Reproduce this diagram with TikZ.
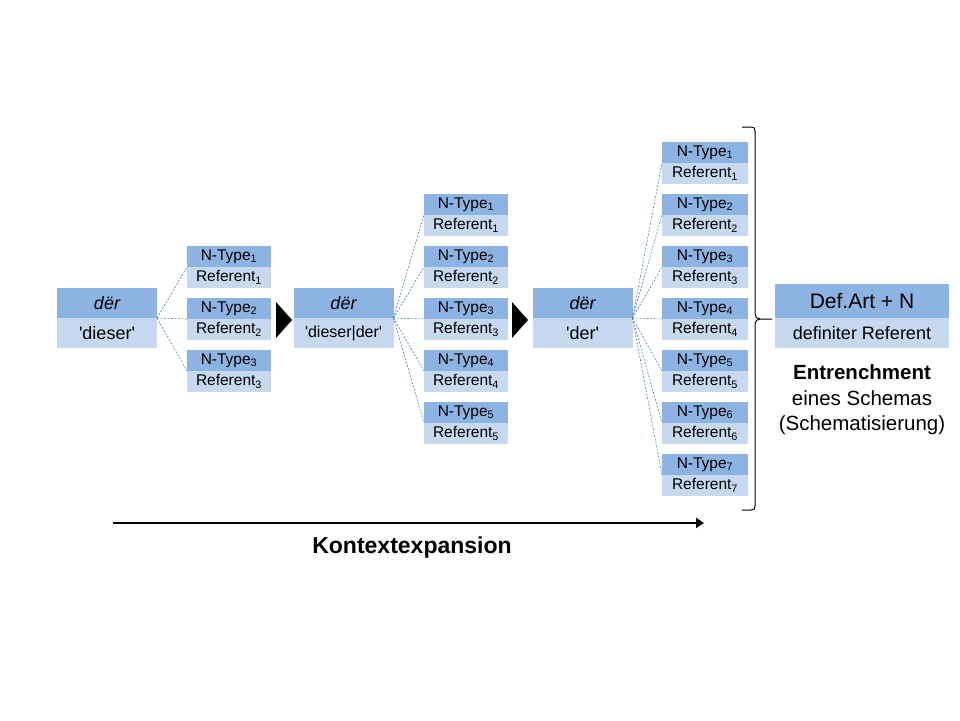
\documentclass[tikz,border=0pt]{standalone}
\usepackage{fontspec}
\setmainfont{Liberation Sans}
\usetikzlibrary{arrows.meta}
\definecolor{topblue}{HTML}{8DB3E2}
\definecolor{botblue}{HTML}{C6D9F1}
\definecolor{dashblue}{HTML}{4F81BD}
\newcommand\sq{\textquotesingle}
\tikzset{
  cell/.style={inner sep=0pt, outer sep=0pt, draw=none, anchor=center},
  nt/.style={cell, fill=topblue, minimum height=21pt, font=\fontsize{15.5}{18}\selectfont},
  nr/.style={cell, fill=botblue, minimum height=21pt, font=\fontsize{15.5}{18}\selectfont},
  bt/.style={cell, fill=topblue, minimum width=100pt, minimum height=30pt, font=\fontsize{18}{21}\selectfont\itshape},
  bb/.style={cell, fill=botblue, minimum width=100pt, minimum height=30pt, font=\fontsize{18}{21}\selectfont},
  conn/.style={draw=dashblue, line width=0.6pt, dash pattern=on 2pt off 1.5pt},
  marker/.style={fill=black, draw=none},
  bracestyle/.style={draw=black, line width=1pt},
  timeline/.style={draw=black, line width=2pt, -{Triangle[length=8pt,width=10pt]}},
  lbl/.style={inner sep=0pt, align=center}
}
\begin{document}
\begin{tikzpicture}[x=1pt,y=-1pt]
\useasboundingbox (0,0) rectangle (960,720);
% big boxes
\node[bt] (B1t) at (107,303) {dër};
\node[bb] (B1b) at (107,333) {\sq dieser\sq};
\node[bt] (B2t) at (343.5,303) {dër};
\node[bb, font=\fontsize{16}{19}\selectfont] (B2b) at (343.5,333) {\sq dieser|der\sq};
\node[bt] (B3t) at (582.5,303) {dër};
\node[bb] (B3b) at (582.5,333) {\sq der\sq};
\node[cell, fill=topblue, minimum width=174pt, minimum height=34pt, font=\fontsize{21}{24}\selectfont] (B4t) at (862,301) {Def.Art + N};
\node[cell, fill=botblue, minimum width=174pt, minimum height=30pt, font=\fontsize{18}{21}\selectfont] (B4b) at (862,333) {definiter Referent};
% column 1
\foreach \k in {1,2,3}{
  \node[nt, minimum width=84pt] (t-a-\k) at (229,{246+52*(\k-1)+10.5}) {N-Type\textsubscript{\k}};
  \node[nr, minimum width=84pt] (r-a-\k) at (229,{246+52*(\k-1)+31.5}) {Referent\textsubscript{\k}};
  \draw[conn] (B1t.south east) -- (t-a-\k.south west);
}
% column 2
\foreach \k in {1,...,5}{
  \node[nt, minimum width=84pt] (t-b-\k) at (466,{194+52*(\k-1)+10.5}) {N-Type\textsubscript{\k}};
  \node[nr, minimum width=84pt] (r-b-\k) at (466,{194+52*(\k-1)+31.5}) {Referent\textsubscript{\k}};
  \draw[conn] (B2t.south east) -- (t-b-\k.south west);
}
% column 3
\foreach \k in {1,...,7}{
  \node[nt, minimum width=86pt] (t-c-\k) at (705,{142+52*(\k-1)+10.5}) {N-Type\textsubscript{\k}};
  \node[nr, minimum width=86pt] (r-c-\k) at (705,{142+52*(\k-1)+31.5}) {Referent\textsubscript{\k}};
  \draw[conn] (B3t.south east) -- (t-c-\k.south west);
}
% markers
\fill[marker] (276,302) -- (292,320) -- (276,338) -- cycle;
\fill[marker] (512,302) -- (528,320) -- (512,338) -- cycle;
% brace
\draw[bracestyle] (742,127) -- (751,127) .. controls (754,127) and (755,128) .. (755,131)
  -- (755,314) .. controls (755,317) and (757,319) .. (760,319) -- (772,319);
\draw[bracestyle] (760,319) .. controls (757,319) and (755,321) .. (755,324)
  -- (755,506) .. controls (755,509) and (754,510) .. (751,510) -- (742,510);
% texts
\node[lbl, font=\fontsize{20.5}{25.5}\selectfont] (ent) at (862,400) {\textbf{Entrenchment}\\eines Schemas\\(Schematisierung)};
\coordinate (ka) at (113,523);
\coordinate (kb) at (704,523);
\draw[timeline] (ka) -- (kb);
\node[lbl, font=\fontsize{23}{27}\selectfont\bfseries] (kx) at (412,548) {Kontextexpansion};
\end{tikzpicture}
\end{document}
